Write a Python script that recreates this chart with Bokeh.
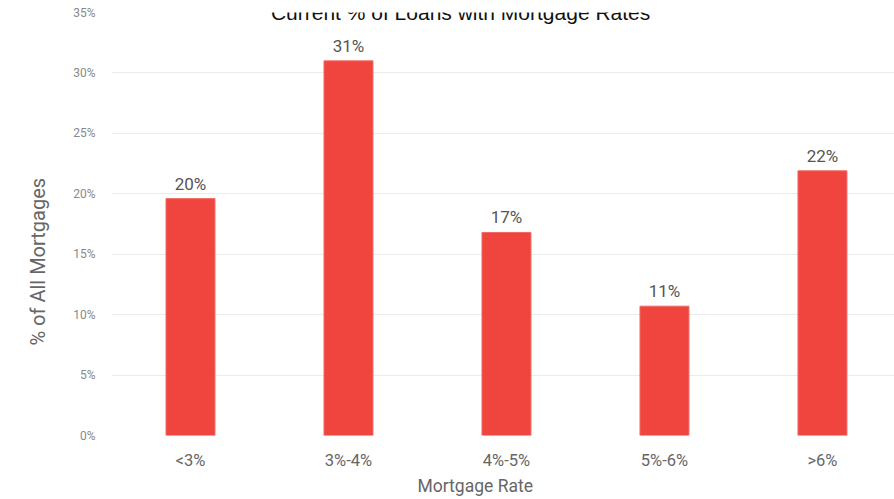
from bokeh.plotting import figure
from bokeh.models import Range1d, FixedTicker, Label, ColumnDataSource, LabelSet, NumeralTickFormatter, Title
from bokeh.core.properties import value
from bokeh.embed import file_html
from bokeh.resources import INLINE

categories = ["<3%", "3%-4%", "4%-5%", "5%-6%", ">6%"]
values = [19.6, 31.0, 16.8, 10.7, 21.9]
value_labels = ["20%", "31%", "17%", "11%", "22%"]
y_ticks = [0, 5, 10, 15, 20, 25, 30, 35]
title_text = "Current  % of Loans with Mortgage Rates"

xs = list(range(len(categories)))
src = ColumnDataSource(dict(x=xs, top=values, lab=value_labels))

W, H = 894, 499
LEFT, TOP, BOTTOM = 111, 12, 64
p = figure(width=W, height=H, output_backend="svg", toolbar_location=None,
           x_range=Range1d(-0.5, 4.456), y_range=Range1d(0, 35),
           min_border_left=LEFT, min_border_right=0, min_border_top=TOP, min_border_bottom=BOTTOM)
p.outline_line_color = None
p.xgrid.grid_line_color = None
p.ygrid.grid_line_color = "#ebebeb"
p.ygrid.ticker = FixedTicker(ticks=y_ticks)

p.vbar(x="x", top="top", width=0.31, source=src, fill_color="#f0453f", line_color="#f26a65", line_width=1)

p.add_layout(LabelSet(x="x", y="top", text="lab", source=src, text_align="center", text_baseline="bottom",
                      y_offset=5, text_font=value("Roboto"), text_font_size=value("17px"),
                      text_color=value("#555555")))

p.xaxis.ticker = FixedTicker(ticks=xs)
p.xaxis.major_label_overrides = {i: c for i, c in enumerate(categories)}
p.xaxis.major_label_text_font = "Roboto"
p.xaxis.major_label_text_font_size = "16.5px"
p.xaxis.major_label_text_color = "#666666"
p.xaxis.major_label_standoff = 9
p.xaxis.axis_line_color = None
p.xaxis.major_tick_line_color = None
p.xaxis.minor_tick_line_color = None

p.yaxis.ticker = FixedTicker(ticks=y_ticks)
p.yaxis.formatter = NumeralTickFormatter(format="0")
p.yaxis.major_label_overrides = {t: f"{t}%" for t in y_ticks}
p.yaxis.major_label_text_font = "Roboto"
p.yaxis.major_label_text_font_size = "12px"
p.yaxis.major_label_text_color = "#888888"
p.yaxis.major_label_standoff = 10
p.yaxis.axis_line_color = None
p.yaxis.major_tick_line_color = None
p.yaxis.minor_tick_line_color = None

# axis titles as side-panel titles so they can be offset along the axis
p.add_layout(Title(text="Mortgage Rate", align="left", offset=306, standoff=3,
                   text_font="Roboto", text_font_size="17.5px", text_font_style="normal",
                   text_color="#666666"), "below")
p.add_layout(Title(text="% of All Mortgages", align="left", offset=90, standoff=41,
                   text_font="Roboto", text_font_size="20px", text_font_style="normal",
                   text_color="#666666"), "left")

frame_bottom = H - BOTTOM
p.add_layout(Label(x=463 - LEFT, y=frame_bottom - 0, x_units="screen", y_units="screen", text=title_text,
                   text_align="center", text_baseline="top",
                   text_font="Liberation Sans", text_font_size="21px", text_color="#111111"))

open("out.html", "w").write(file_html(p, INLINE))
